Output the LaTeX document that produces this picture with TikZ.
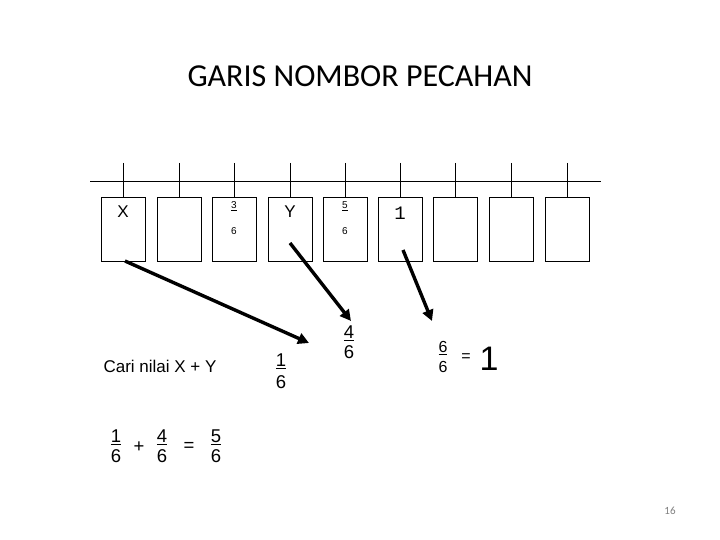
\documentclass[tikz,border=0pt]{standalone}
\usepackage{fontspec}
\setmainfont{Liberation Sans}
\newfontfamily\calib{Carlito}
\newfontfamily\monof{Liberation Mono}
\usetikzlibrary{arrows.meta}
\begin{document}
\begin{tikzpicture}[x=1pt,y=-1pt,
  cell/.style={draw,line width=0.8pt,minimum width=44pt,minimum height=64pt,inner sep=0pt},
  tick/.style={line width=0.8pt},
  bigarrow/.style={line width=3.4pt,-{Triangle[length=11pt,width=11pt]}},
  txt/.style={inner sep=0pt,font=\fontsize{17}{17}\selectfont},
  small/.style={inner sep=0pt,font=\fontsize{10}{10}\selectfont},
  frac/.style={inner sep=0pt,font=\fontsize{18.5}{18.5}\selectfont},
  fracs/.style={inner sep=0pt,font=\fontsize{16}{16}\selectfont}]
\useasboundingbox (0,0) rectangle (720,540);
\fill[white] (0,0) rectangle (720,540);
% title
\node[inner sep=0pt,font=\calib\fontsize{32}{32}\selectfont] (title) at (360,76) {GARIS NOMBOR PECAHAN};
% number line
\coordinate (L) at (90,181);
\coordinate (R) at (601,181);
\draw[tick] (L) -- (R);
\foreach \i/\x in {1/123,2/179,3/234,4/290,5/345,6/400,7/455,8/511,9/567}{
  \node[cell] (b\i) at (\x,229) {};
  \coordinate (t\i) at (\x,163);
  \draw[tick] (t\i) -- (b\i.north);
}
% box labels
\node[txt] (lx) at (123,212) {X};
\node[small] (l3) at (234,206) {\underline{3}};
\node[small] (l3d) at (234,231) {6};
\node[txt] (ly) at (290,212) {Y};
\node[small] (l5) at (345,206) {\underline{5}};
\node[small] (l5d) at (345,231) {6};
\node[inner sep=0pt,font=\monof\fontsize{19}{19}\selectfont] (l1) at (400,213) {1};
% fractions below
\node[frac] (f1n) at (281,361) {\underline{1}};
\node[frac] (f1d) at (281,382) {6};
\node[frac] (f4n) at (349,333) {\underline{4}};
\node[frac] (f4d) at (349,352) {6};
\node[fracs] (f6n) at (443,348) {\underline{6}};
\node[fracs] (f6d) at (443,367) {6};
\node[fracs] (eq1) at (466,358) {=};
\node[inner sep=0pt,font=\fontsize{34}{34}\selectfont] (one) at (489,359) {1};
\node[inner sep=0pt,font=\fontsize{17}{17}\selectfont] (cari) at (160,366) {Cari nilai X + Y};
% bottom equation
\node[frac] (e1n) at (116,437) {\underline{1}};
\node[frac] (e1d) at (116,456) {6};
\node[frac] (plus) at (139,447) {+};
\node[frac] (e4n) at (162,437) {\underline{4}};
\node[frac] (e4d) at (162,456) {6};
\node[frac] (eq2) at (189,447) {=};
\node[frac] (e5n) at (216,437) {\underline{5}};
\node[frac] (e5d) at (216,456) {6};
% page number
\node[inner sep=0pt,text=gray,font=\calib\fontsize{11}{11}\selectfont] (pg) at (670,511) {16};
% arrows
\coordinate (a1s) at (125,261);
\coordinate (a1e) at (309,343);
\coordinate (a2s) at (290,243);
\coordinate (a2e) at (351,321);
\coordinate (a3s) at (403,250);
\coordinate (a3e) at (432,321);
\draw[bigarrow] (a1s) -- (a1e);
\draw[bigarrow] (a2s) -- (a2e);
\draw[bigarrow] (a3s) -- (a3e);
\end{tikzpicture}
\end{document}
